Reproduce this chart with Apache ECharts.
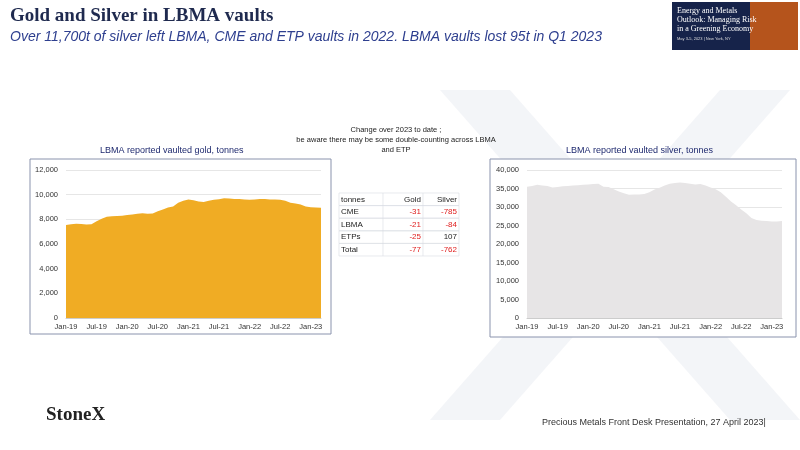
<!DOCTYPE html>
<html><head><meta charset="utf-8">
<script src="https://cdn.jsdelivr.net/npm/echarts@6/dist/echarts.min.js"></script>
<style>html,body{margin:0;padding:0;background:#fff}#c{width:800px;height:450px}</style>
</head><body><div id="c"></div>
<script>
const months = [];
const mn = ['Jan','Feb','Mar','Apr','May','Jun','Jul','Aug','Sep','Oct','Nov','Dec'];
for (let y = 19; y <= 23; y++) for (let m = 0; m < 12; m++) { if (y === 23 && m > 2) break; months.push(mn[m] + '-' + y); }
const gold = [7550,7600,7650,7620,7580,7600,7850,8050,8200,8250,8270,8300,8350,8400,8450,8500,8450,8480,8650,8800,8950,9050,9350,9500,9600,9550,9450,9400,9500,9580,9620,9700,9680,9650,9640,9600,9580,9600,9650,9640,9600,9600,9580,9500,9350,9280,9200,9050,8980,8950,8930];
const silver = [35500,35700,36000,35800,35700,35300,35400,35600,35700,35800,35900,36000,36100,36200,36300,35500,35400,34800,34200,33700,33300,33400,33400,33500,34000,34700,35200,35800,36300,36500,36600,36500,36300,36100,36200,35800,35300,34800,34000,32800,31500,30500,29300,28300,27000,26500,26300,26200,26100,26100,26200];
const tableRows = [['tonnes','Gold','Silver'],['CME','-31','-785'],['LBMA','-21','-84'],['ETPs','-25','107'],['Total','-77','-762']];

const ch = echarts.init(document.getElementById('c'));
const F = 'Liberation Sans';
const g = [];
g.push({type:'polygon',shape:{points:[[440,90],[510,90],[800,420],[730,420]]},style:{fill:'rgba(235,238,243,0.6)'},z:-10});
g.push({type:'polygon',shape:{points:[[720,90],[790,90],[500,420],[430,420]]},style:{fill:'rgba(235,238,243,0.6)'},z:-10});
g.push({type:'text',left:10,top:7,style:{text:'Gold and Silver in LBMA vaults',font:'bold 19px "Liberation Serif"',fill:'#1f2a4f'}});
g.push({type:'text',left:10,top:30,style:{text:'Over 11,700t of silver left LBMA, CME and ETP vaults in 2022. LBMA vaults lost 95t in Q1 2023',font:'italic 14px '+F,fill:'#2e3f8f'}});
g.push({type:'rect',shape:{x:672,y:2,width:126,height:48},style:{fill:'#16234a'}});
g.push({type:'rect',shape:{x:750,y:2,width:48,height:48},style:{fill:'#b5541c'}});
g.push({type:'text',left:677,top:6,style:{text:'Energy and Metals\nOutlook: Managing Risk\nin a Greening Economy',font:'8px "Liberation Serif"',fill:'#fff',lineHeight:9}});
g.push({type:'text',left:677,top:37,style:{text:'May 3-5, 2023 | New York, NY',font:'4px '+F,fill:'#ddd'}});
g.push({type:'text',left:46,top:406,style:{text:'StoneX',font:'bold 19px "Liberation Serif"',fill:'#222'}});
g.push({type:'text',left:542,top:418,style:{text:'Precious Metals Front Desk Presentation, 27 April 2023|',font:'9px '+F,fill:'#333'}});
g.push({type:'text',x:396,y:125,style:{text:'Change over 2023 to date ;\nbe aware there may be some double-counting across LBMA\nand ETP',font:'7.5px '+F,fill:'#222',align:'center',lineHeight:10}});
g.push({type:'text',left:100,top:146,style:{text:'LBMA reported vaulted gold, tonnes',font:'9px '+F,fill:'#1f2a6f'}});
g.push({type:'text',left:566,top:146,style:{text:'LBMA reported vaulted silver, tonnes',font:'9px '+F,fill:'#1f2a6f'}});
g.push({type:'rect',shape:{x:30,y:159,width:301,height:175},style:{fill:'none',stroke:'#8a93ad',lineWidth:1}});
g.push({type:'rect',shape:{x:490,y:159,width:306,height:178},style:{fill:'#fff',stroke:'#8a93ad',lineWidth:1},z:-5});
const tx=[339,383,423,459], ty0=193, rh=12.6;
tableRows.forEach((r,i)=>{
  const y=ty0+i*rh;
  g.push({type:'rect',shape:{x:339,y:y,width:120,height:rh},style:{fill:'none',stroke:'#d8dbe2',lineWidth:0.6}});
  r.forEach((t,j)=>{
    const red = i>0 && j>0 && t.startsWith('-');
    g.push({type:'text',x: j===0?tx[0]+2:tx[j+1]-2,y:y+rh/2,style:{text:t,font:'8px '+F,fill:red?'#e02020':'#222',align:j===0?'left':'right',verticalAlign:'middle'}});
  });
});
[383,423].forEach(x=>g.push({type:'line',shape:{x1:x,y1:ty0,x2:x,y2:ty0+5*rh},style:{stroke:'#d8dbe2',lineWidth:0.6}}));

const axL = {fontSize:7.5,color:'#333',fontFamily:F};
function xAx(i){return {type:'category',gridIndex:i,data:months,boundaryGap:false,axisTick:{show:false},axisLine:{lineStyle:{color:'#ccc'}},
  axisLabel:{...axL,interval:(idx)=>idx%6===0,margin:5}};}
ch.setOption({
  animation:false,
  graphic:g,
  grid:[{left:66,right:479,top:170,bottom:132},{left:527,right:18,top:170,bottom:132}],
  xAxis:[xAx(0),xAx(1)],
  yAxis:[
    {type:'value',gridIndex:0,min:0,max:12000,interval:2000,axisLabel:{...axL,formatter:v=>v.toLocaleString('en-US')},splitLine:{lineStyle:{color:'#e6e6e6'}}},
    {type:'value',gridIndex:1,min:0,max:40000,interval:5000,axisLabel:{...axL,formatter:v=>v.toLocaleString('en-US')},splitLine:{lineStyle:{color:'#e6e6e6'}}}
  ],
  series:[
    {type:'line',xAxisIndex:0,yAxisIndex:0,data:gold,showSymbol:false,lineStyle:{width:0},areaStyle:{color:'#f0ac24',opacity:1}},
    {type:'line',xAxisIndex:1,yAxisIndex:1,data:silver,showSymbol:false,lineStyle:{width:0},areaStyle:{color:'#e7e5e6',opacity:1}}
  ]
});
</script></body></html>
